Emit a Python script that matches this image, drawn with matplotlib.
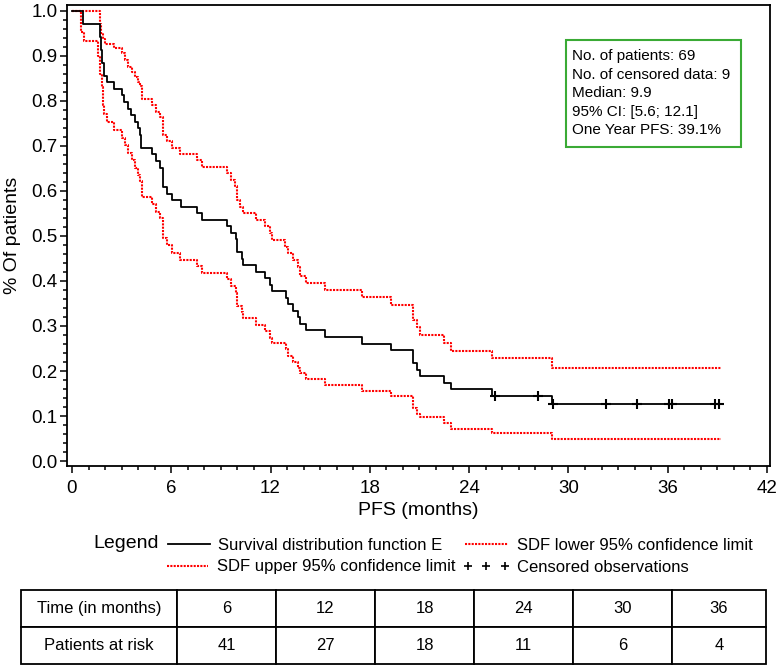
import matplotlib
matplotlib.use("Agg")
import matplotlib.pyplot as plt
from matplotlib.lines import Line2D
from matplotlib.patches import Rectangle
from matplotlib.ticker import MultipleLocator, FormatStrFormatter

plt.rcParams['font.family'] = ['Liberation Sans', 'DejaVu Sans']

# survival estimate, step changes at these times
sdf_t = [0, 0.68, 1.70, 1.76, 1.82, 1.95, 2.10, 2.54, 3.00, 3.16, 3.36, 3.56, 3.80,
         3.97, 4.10, 4.20, 4.85, 5.05, 5.30, 5.48, 5.72, 6.02, 6.59, 7.57, 7.87,
         9.38, 9.59, 9.89, 9.99, 10.25, 10.35, 11.10, 11.66, 11.96, 12.06, 12.91,
         13.07, 13.37, 13.67, 13.78, 14.14, 15.29, 17.50, 19.27, 20.62, 20.86,
         21.03, 22.50, 22.88, 25.36, 28.98, 39.25]
sdf_s = [1.0, 0.971, 0.942, 0.913, 0.884, 0.855, 0.841, 0.826, 0.812, 0.797, 0.783,
         0.768, 0.754, 0.739, 0.725, 0.696, 0.681, 0.667, 0.652, 0.609, 0.594,
         0.580, 0.565, 0.551, 0.536, 0.522, 0.507, 0.493, 0.464, 0.449, 0.435,
         0.420, 0.406, 0.391, 0.377, 0.362, 0.348, 0.333, 0.319, 0.304, 0.290,
         0.275, 0.261, 0.246, 0.217, 0.203, 0.188, 0.174, 0.159, 0.145, 0.127, 0.127]

upper_t = [0, 1.70, 1.78, 1.87, 2.00, 2.56, 3.04, 3.20, 3.40, 3.60, 3.80, 3.97, 4.10,
           4.25, 4.85, 5.10, 5.30, 5.50, 5.72, 6.02, 6.53, 7.57, 7.87, 9.38, 9.59,
           9.85, 9.99, 10.15, 10.31, 11.10, 11.66, 11.96, 12.10, 12.87, 13.07, 13.37,
           13.67, 13.78, 14.14, 15.29, 17.50, 19.27, 20.62, 20.86, 21.03, 22.50,
           22.88, 25.36, 28.98, 39.20]
upper_s = [1.0, 0.970, 0.950, 0.937, 0.926, 0.917, 0.906, 0.891, 0.876, 0.865, 0.854,
           0.843, 0.832, 0.804, 0.791, 0.776, 0.765, 0.724, 0.710, 0.696, 0.683,
           0.669, 0.654, 0.639, 0.624, 0.610, 0.580, 0.565, 0.550, 0.536, 0.521,
           0.506, 0.491, 0.476, 0.462, 0.447, 0.432, 0.411, 0.396, 0.380, 0.364,
           0.347, 0.313, 0.297, 0.280, 0.263, 0.245, 0.228, 0.206, 0.206]

lower_t = [0, 0.52, 0.73, 1.59, 1.70, 1.80, 1.88, 1.95, 2.10, 2.56, 3.04, 3.20, 3.40,
           3.60, 3.80, 3.97, 4.10, 4.25, 4.85, 5.10, 5.30, 5.48, 5.72, 6.02, 6.53,
           7.57, 7.87, 9.38, 9.59, 9.89, 9.99, 10.25, 10.35, 11.10, 11.66, 11.96,
           12.06, 12.91, 13.07, 13.37, 13.67, 13.78, 14.14, 15.29, 17.50, 19.27,
           20.62, 20.86, 21.03, 22.50, 22.88, 25.36, 28.98, 39.20]
lower_s = [1.0, 0.954, 0.932, 0.900, 0.860, 0.830, 0.790, 0.770, 0.754, 0.736, 0.717,
           0.702, 0.684, 0.669, 0.652, 0.636, 0.621, 0.587, 0.570, 0.554, 0.539,
           0.495, 0.480, 0.463, 0.447, 0.433, 0.418, 0.404, 0.389, 0.374, 0.344,
           0.330, 0.317, 0.302, 0.289, 0.274, 0.262, 0.248, 0.233, 0.221, 0.207,
           0.195, 0.182, 0.169, 0.156, 0.144, 0.117, 0.105, 0.098, 0.084, 0.071,
           0.062, 0.048, 0.048]

censor_t = [25.56, 28.14, 29.05, 32.25, 34.16, 36.10, 36.24, 38.85, 39.10]
censor_s = [0.145, 0.145, 0.127, 0.127, 0.127, 0.127, 0.127, 0.127, 0.127]

info_lines = ["No. of patients: 69", "No. of censored data: 9", "Median: 9.9",
              "95% CI: [5.6; 12.1]", "One Year PFS: 39.1%"]

risk_times = ["6", "12", "18", "24", "30", "36"]
risk_counts = ["41", "27", "18", "11", "6", "4"]

W, H = 776, 667
def fx(x):
    return x / W
def fy(y):
    return 1 - y / H

fig = plt.figure(figsize=(W / 100, H / 100), dpi=100)
ax = fig.add_axes([fx(67), fy(466), (770 - 67) / W, (466 - 5) / H])

red_style = dict(color='red', lw=1.5, linestyle=(0, (1, 0.6)))
ax.step(upper_t, upper_s, where='post', **red_style)
ax.step(lower_t, lower_s, where='post', **red_style)
ax.step(sdf_t, sdf_s, where='post', color='black', lw=1.3)
ax.plot(censor_t, censor_s, '+', color='black', ms=6.5, mew=1.5)

ax.set_xlim(-0.3, 42.18)
ax.set_ylim(-0.011, 1.013)
ax.xaxis.set_major_locator(MultipleLocator(6))
ax.xaxis.set_minor_locator(MultipleLocator(1))
ax.yaxis.set_major_locator(MultipleLocator(0.1))
ax.yaxis.set_minor_locator(MultipleLocator(0.02))
ax.yaxis.set_major_formatter(FormatStrFormatter('%.1f'))
ax.tick_params(which='major', length=5, width=1.1, labelsize=13.5)
ax.tick_params(axis='y', which='major', pad=2)
ax.tick_params(axis='x', which='major', pad=5)
ax.tick_params(which='minor', length=3, width=1.1)
for s in ax.spines.values():
    s.set_linewidth(1.3)
ax.set_xlabel('PFS (months)', fontsize=14, labelpad=4)
ax.set_ylabel('% Of patients', fontsize=14, labelpad=7)

# info box
fig.add_artist(Rectangle((fx(566), fy(147)), (741 - 566) / W, (147 - 40) / H,
                         transform=fig.transFigure, fill=False,
                         edgecolor='#3aaa35', lw=1.5))
for i, line in enumerate(info_lines):
    fig.text(fx(572), fy(56 + i * 18.6), line, fontsize=11, va='center')

# legend
fig.text(fx(93), fy(544), 'Legend', fontsize=14, va='center')
fig.add_artist(Line2D([fx(168), fx(210)], [fy(544), fy(544)], color='black', lw=1.3))
fig.text(fx(218), fy(545), 'Survival distribution function E', fontsize=12, va='center')
fig.add_artist(Line2D([fx(465), fx(508)], [fy(544), fy(544)], **red_style))
fig.text(fx(517), fy(545), 'SDF lower 95% confidence limit', fontsize=12, va='center')
fig.add_artist(Line2D([fx(167), fx(208)], [fy(566), fy(566)], **red_style))
fig.text(fx(217), fy(567), 'SDF upper 95% confidence limit', fontsize=12, va='center')
fig.add_artist(Line2D([fx(468), fx(486), fx(505)], [fy(566)] * 3, color='black',
                      linestyle='none', marker='+', ms=5.5, mew=1.2))
fig.text(fx(517), fy(567), 'Censored observations', fontsize=12, va='center')

# at-risk table
tax = fig.add_axes([fx(21), fy(664), (766 - 21) / W, (664 - 590) / H])
tax.axis('off')
col_w = [156, 99, 99, 99, 99, 99, 94]
tot = sum(col_w)
tbl = tax.table(cellText=[["Time (in months)"] + risk_times,
                          ["Patients at risk"] + risk_counts],
                cellLoc='center', bbox=[0, 0, 1, 1],
                colWidths=[w / tot for w in col_w])
tbl.auto_set_font_size(False)
for cell in tbl.get_celld().values():
    cell.set_linewidth(1.3)
    cell.set_fontsize(12)

fig.savefig('out.png', dpi=100)
